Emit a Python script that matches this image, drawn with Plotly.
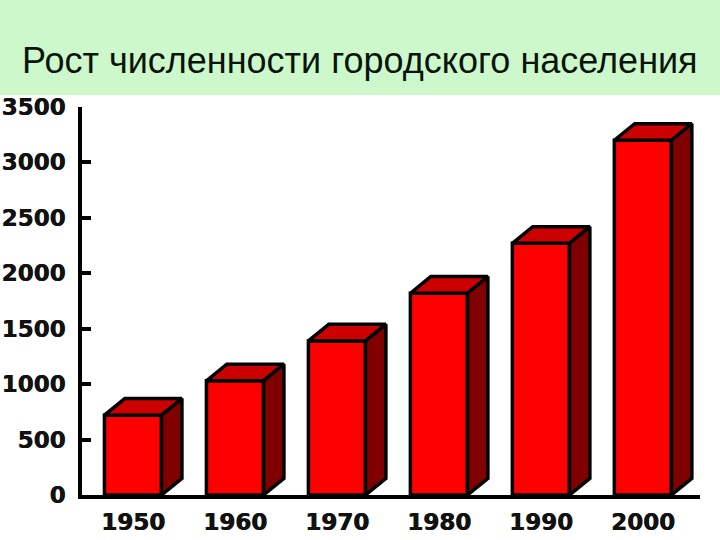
import plotly.graph_objects as go

# data
years = ["1950", "1960", "1970", "1980", "1990", "2000"]
population = [720, 1030, 1390, 1820, 2270, 3200]
y_ticks = [0, 500, 1000, 1500, 2000, 2500, 3000, 3500]

title_text = "Рост численности городского населения"

BAR_W = 0.56   # front face width, category units
DX = 0.2       # depth offset, category units
DY = 150       # depth offset, value units

FRONT = "#ff0000"
TOP = "#cc0000"
SIDE = "#800000"

fig = go.Figure()

# front faces
fig.add_trace(
    go.Bar(
        x=list(range(len(years))),
        y=population,
        width=BAR_W,
        marker=dict(color=FRONT, line=dict(color="black", width=3.5)),
        hoverinfo="skip",
    )
)

# top and side faces, built from the same values
top_x, top_y, side_x, side_y = [], [], [], []
for i, v in enumerate(population):
    left, right = i - BAR_W / 2, i + BAR_W / 2
    top_x += [left, left + DX, right + DX, right, left, None]
    top_y += [v, v + DY, v + DY, v, v, None]
    side_x += [right, right, right + DX, right + DX, right, None]
    side_y += [0, v, v + DY, DY, 0, None]

fig.add_trace(
    go.Scatter(
        x=top_x, y=top_y, mode="lines", fill="toself", fillcolor=TOP,
        line=dict(color="black", width=3.5), hoverinfo="skip",
    )
)
fig.add_trace(
    go.Scatter(
        x=side_x, y=side_y, mode="lines", fill="toself", fillcolor=SIDE,
        line=dict(color="black", width=3.5), hoverinfo="skip",
    )
)

# heavy, slightly smeared digits like the original
tick_font = dict(
    family="DejaVu Sans", size=23, color="#111111", weight="bold",
    shadow="0.7px 0 0 #111111",
)

fig.update_xaxes(
    tickmode="array",
    tickvals=list(range(len(years))),
    ticktext=years,
    range=[-0.5, 5.56],
    showline=True,
    linecolor="black",
    linewidth=4,
    ticks="",
    showgrid=False,
    zeroline=False,
    tickfont=tick_font,
    ticklabelstandoff=3,
    automargin=False,
)
fig.update_yaxes(
    tickmode="array",
    tickvals=y_ticks,
    range=[0, 3500],
    showline=True,
    linecolor="black",
    linewidth=4,
    ticks="inside",
    ticklen=9,
    tickwidth=4,
    tickcolor="black",
    showgrid=False,
    zeroline=False,
    tickfont=tick_font,
    ticklabelstandoff=8,
    automargin=False,
)

# light green title band
fig.add_shape(
    type="rect", xref="paper", yref="paper",
    x0=-0.3, x1=1.2, y0=1.031, y1=1.5,
    fillcolor="#ccf8cc", line=dict(width=0), layer="below",
)

fig.update_layout(
    width=720,
    height=540,
    margin=dict(l=82, r=20, t=107, b=45),
    paper_bgcolor="white",
    plot_bgcolor="white",
    showlegend=False,
    title=dict(
        text=title_text,
        x=22 / 720,
        xanchor="left",
        y=1 - 60 / 540,
        yanchor="middle",
        font=dict(family="Liberation Sans", size=36, color="#0a140a"),
        automargin=False,
    ),
)

fig.write_html(
    "out.html",
    config={"displayModeBar": False},
    post_script="document.body.style.margin='0';",
)
